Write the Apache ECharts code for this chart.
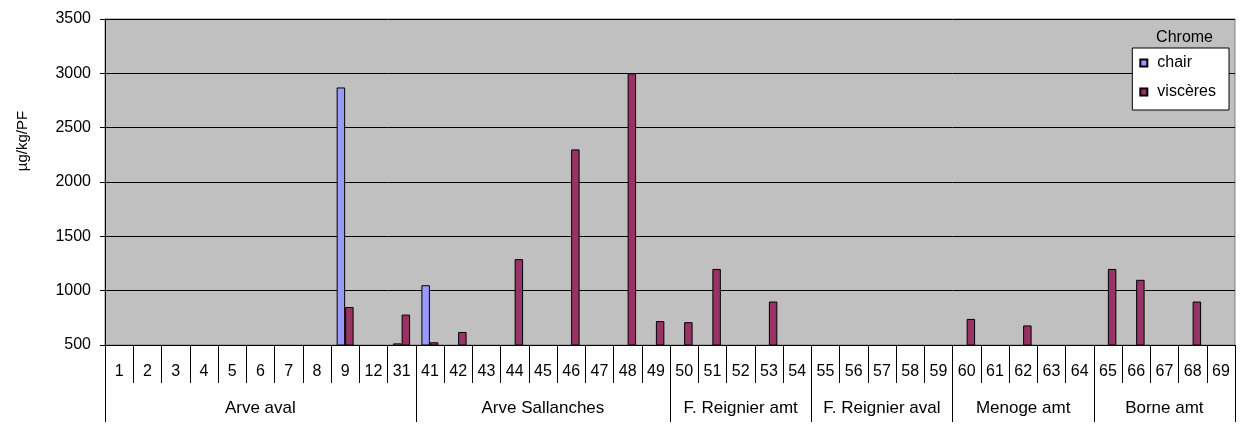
<!DOCTYPE html>
<html>
<head>
<meta charset="utf-8">
<title>Chrome</title>
<script src="https://cdn.jsdelivr.net/npm/echarts@6/dist/echarts.min.js"></script>
<style>
  html, body { margin: 0; padding: 0; background: #fff; }
  #chart { width: 1242px; height: 428px; }
</style>
</head>
<body>
<div id="chart"></div>
<script>
// Sample identifiers, grouped by sampling site
const categories = ['1','2','3','4','5','6','7','8','9','12','31',
  '41','42','43','44','45','46','47','48','49',
  '50','51','52','53','54',
  '55','56','57','58','59',
  '60','61','62','63','64',
  '65','66','67','68','69'];

const siteNames = ['Arve aval', 'Arve Sallanches', 'F. Reignier amt', 'F. Reignier aval', 'Menoge amt', 'Borne amt'];
const siteSizes = [11, 9, 5, 5, 5, 5];

// Chromium concentrations (µg/kg/PF); null = not shown on this scale
const chair = [null,null,null,null,null,null,null,null,2870,null,515,
  1050,null,null,null,null,null,null,null,null,
  null,null,null,null,null,
  null,null,null,null,null,
  null,null,null,null,null,
  null,null,null,null,null];

const visceres = [null,null,null,null,null,null,null,null,850,null,780,
  525,620,null,1290,null,2300,null,3000,720,
  710,1200,null,900,null,
  null,null,null,null,null,
  740,null,680,null,null,
  1200,1100,null,900,null];

const yTicks = { min: 500, max: 3500, step: 500 };

// Site boundaries and label centres in category units
const siteEdges = [0];
siteSizes.forEach(n => siteEdges.push(siteEdges[siteEdges.length - 1] + n));
const siteCentres = siteSizes.map((n, i) => siteEdges[i] + n / 2);

const font = 'Liberation Sans, Arial, sans-serif';

const chart = echarts.init(document.getElementById('chart'), null, { renderer: 'canvas' });

chart.setOption({
  animation: false,
  backgroundColor: '#ffffff',
  textStyle: { fontFamily: font, color: '#000' },
  title: {
    text: 'Chrome',
    right: 24,
    top: 25,
    textStyle: { fontFamily: font, fontSize: 16, fontWeight: 'normal', color: '#000' }
  },
  graphic: [{
    type: 'text',
    x: 23,
    y: 141,
    rotation: Math.PI / 2,
    style: {
      text: 'µg/kg/PF',
      fontFamily: font,
      fontSize: 15,
      fill: '#000',
      align: 'center',
      verticalAlign: 'middle'
    }
  }],
  legend: {
    orient: 'vertical',
    right: 13,
    top: 48,
    backgroundColor: '#ffffff',
    borderColor: '#000',
    borderWidth: 1,
    borderRadius: 0,
    padding: [7, 13, 10, 7],
    itemWidth: 7,
    itemHeight: 7,
    itemGap: 13,
    icon: 'rect',
    textStyle: { fontFamily: font, fontSize: 16, color: '#000', padding: [0, 0, 0, 5] },
    data: ['chair', 'viscères']
  },
  grid: {
    left: 105,
    right: 7,
    top: 19,
    bottom: 83,
    show: true,
    backgroundColor: '#C0C0C0',
    borderColor: '#808080',
    borderWidth: 1
  },
  xAxis: [
    {
      type: 'category',
      data: categories,
      boundaryGap: true,
      axisLine: { show: true, lineStyle: { color: '#000', width: 1 } },
      axisTick: { show: true, interval: 0, length: 38, lineStyle: { color: '#000' } },
      axisLabel: { interval: 0, margin: 19, fontSize: 16, color: '#000', fontFamily: font },
      splitLine: { show: false }
    },
    {
      type: 'value',
      position: 'bottom',
      min: 0,
      max: categories.length,
      axisLine: { show: false },
      splitLine: { show: false },
      axisTick: {
        show: true,
        inside: false,
        length: 77,
        customValues: siteEdges,
        lineStyle: { color: '#000' }
      },
      axisLabel: {
        show: true,
        margin: 55,
        fontSize: 17,
        color: '#000',
        fontFamily: font,
        customValues: siteCentres,
        formatter: v => siteNames[siteCentres.indexOf(v)] || ''
      }
    }
  ],
  yAxis: {
    type: 'value',
    min: yTicks.min,
    max: yTicks.max,
    interval: yTicks.step,
    axisLine: { show: true, lineStyle: { color: '#000' } },
    axisTick: { show: true, inside: false, length: 5, lineStyle: { color: '#000' } },
    axisLabel: { margin: 14, fontSize: 16, color: '#000', fontFamily: font, formatter: v => String(v) },
    splitLine: { show: true, lineStyle: { color: '#000', width: 1 } }
  },
  series: [
    {
      name: 'chair',
      type: 'bar',
      data: chair,
      barGap: '0%',
      barCategoryGap: '40%',
      itemStyle: { color: '#9999FF', borderColor: '#000', borderWidth: 1 }
    },
    {
      name: 'viscères',
      type: 'bar',
      data: visceres,
      barGap: '0%',
      barCategoryGap: '40%',
      itemStyle: { color: '#993366', borderColor: '#000', borderWidth: 1 }
    }
  ]
});
</script>
</body>
</html>
